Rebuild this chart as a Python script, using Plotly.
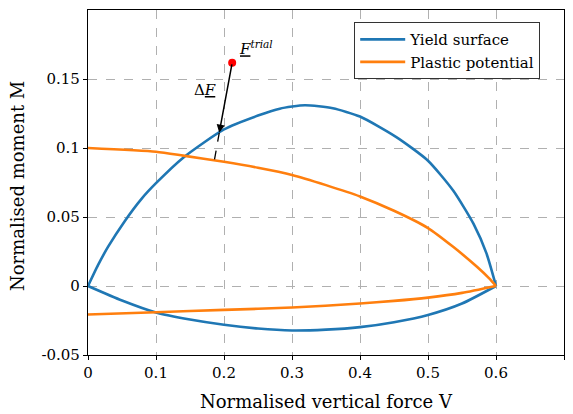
import plotly.graph_objects as go

# Yield surface (upper and lower branches)
ys_up_v = [0.0, 0.0147, 0.0294, 0.054, 0.0784, 0.1, 0.14, 0.2, 0.25, 0.282, 0.319, 0.36, 0.4, 0.454, 0.5, 0.537, 0.567, 0.586, 0.6]
ys_up_m = [0.0, 0.0151, 0.0283, 0.047, 0.063, 0.0745, 0.093, 0.1135, 0.1235, 0.1285, 0.131, 0.1288, 0.1228, 0.1077, 0.0908, 0.0692, 0.045, 0.0236, 0.0]
ys_lo_v = [0.0, 0.05, 0.1, 0.15, 0.2, 0.25, 0.3, 0.35, 0.4, 0.45, 0.5, 0.55, 0.6]
ys_lo_m = [0.0, -0.0105, -0.0192, -0.0243, -0.0281, -0.0308, -0.0322, -0.0316, -0.0298, -0.0262, -0.021, -0.0127, 0.0]

# Plastic potential (upper and lower branches)
pp_up_v = [0.0, 0.1, 0.14, 0.2, 0.25, 0.3, 0.35, 0.4, 0.45, 0.5, 0.537, 0.572, 0.59, 0.6]
pp_up_m = [0.1, 0.0973, 0.0945, 0.090, 0.0857, 0.0805, 0.0731, 0.0649, 0.0545, 0.042, 0.0284, 0.0139, 0.0055, 0.0]
pp_lo_v = [0.0, 0.1, 0.2, 0.3, 0.4, 0.45, 0.5, 0.55, 0.6]
pp_lo_m = [-0.0206, -0.019, -0.0173, -0.0156, -0.0127, -0.0108, -0.0084, -0.005, 0.0]

# Trial stress point, return point on yield surface, projection on plastic potential
trial_v, trial_m = [0.212], [0.1617]
ret_v, ret_m = 0.193, 0.111
proj_v, proj_m = 0.186, 0.0915
dF_label_v, dF_label_m = 0.172, 0.142

x_ticks = [0, 0.1, 0.2, 0.3, 0.4, 0.5, 0.6, 0.7]
x_ticktext = ["0", "0.1", "0.2", "0.3", "0.4", "0.5", "0.6", "0.7"]
y_ticks = [-0.05, 0, 0.05, 0.1, 0.15]
y_ticktext = ["-0.05", "0", "0.05", "0.1", "0.15"]

BLUE = "#1f77b4"
ORANGE = "#ff7f0e"
FONT = "DejaVu Serif"
LW = 2.6

fig = go.Figure()
fig.add_trace(go.Scatter(x=ys_up_v, y=ys_up_m, mode="lines", legendgroup="ys",
                         line=dict(color=BLUE, width=LW, shape="spline", smoothing=0.6),
                         name="Yield surface"))
fig.add_trace(go.Scatter(x=ys_lo_v, y=ys_lo_m, mode="lines", legendgroup="ys", showlegend=False,
                         line=dict(color=BLUE, width=LW, shape="spline", smoothing=0.6),
                         name="Yield surface"))
fig.add_trace(go.Scatter(x=pp_up_v, y=pp_up_m, mode="lines", legendgroup="pp",
                         line=dict(color=ORANGE, width=LW, shape="spline", smoothing=0.6),
                         name="Plastic potential"))
fig.add_trace(go.Scatter(x=pp_lo_v, y=pp_lo_m, mode="lines", legendgroup="pp", showlegend=False,
                         line=dict(color=ORANGE, width=LW, shape="spline", smoothing=0.6),
                         name="Plastic potential"))
fig.add_trace(go.Scatter(x=[ret_v, proj_v], y=[ret_m, proj_m], mode="lines",
                         line=dict(color="black", width=1.3, dash="dash"), showlegend=False))
fig.add_trace(go.Scatter(x=trial_v, y=trial_m, mode="markers",
                         marker=dict(color="red", size=8), showlegend=False))

fig.add_annotation(x=ret_v, y=ret_m, ax=trial_v[0], ay=trial_m[0], xref="x", yref="y",
                   axref="x", ayref="y", showarrow=True, arrowhead=2, arrowsize=1.1,
                   arrowwidth=1.5, arrowcolor="black", text="")
fig.add_annotation(x=trial_v[0], y=trial_m[0], xref="x", yref="y", showarrow=False,
                   text="<u><i>F</i></u><sup><i>trial</i></sup>", xanchor="left", yanchor="bottom",
                   xshift=5, yshift=3, font=dict(family=FONT, size=15, color="black"))
fig.add_annotation(x=dF_label_v, y=dF_label_m, xref="x", yref="y", showarrow=False,
                   text="Δ<u><i>F</i></u>", font=dict(family=FONT, size=15, color="black"))

# Axis titles
fig.add_annotation(x=0.5, y=-0.099, xref="paper", yref="paper", showarrow=False,
                   text="Normalised vertical force V", xanchor="center", yanchor="top",
                   font=dict(family=FONT, size=18, color="black"))
fig.add_annotation(x=-0.147, y=0.49, xref="paper", yref="paper", showarrow=False,
                   text="Normalised moment M", textangle=-90, xanchor="center", yanchor="middle",
                   font=dict(family=FONT, size=18, color="black"))

axis_common = dict(showline=True, linecolor="black", linewidth=1.3, mirror=True,
                   ticks="outside", ticklen=4, tickcolor="black", tickwidth=1.2,
                   showgrid=True, gridcolor="#b0b0b0", griddash="dash", gridwidth=1,
                   zeroline=False, automargin=False,
                   tickfont=dict(family=FONT, size=15, color="black"))

fig.update_xaxes(range=[0, 0.7], tickvals=x_ticks, ticktext=x_ticktext, **axis_common)
fig.update_yaxes(range=[-0.05, 0.2], tickvals=y_ticks, ticktext=y_ticktext, **axis_common)

fig.update_layout(width=573, height=414, margin=dict(l=88, r=9, t=10, b=59, autoexpand=False),
                  paper_bgcolor="white", plot_bgcolor="white",
                  font=dict(family=FONT, color="black"),
                  legend=dict(x=0.95, y=0.965, xanchor="right", yanchor="top",
                              bgcolor="white", bordercolor="#333333", borderwidth=1,
                              itemwidth=45, tracegroupgap=0,
                              font=dict(family=FONT, size=15, color="black")))

fig.write_html("out.html", config={"displayModeBar": False},
               post_script="document.body.style.margin='0';document.body.style.overflow='hidden';")
